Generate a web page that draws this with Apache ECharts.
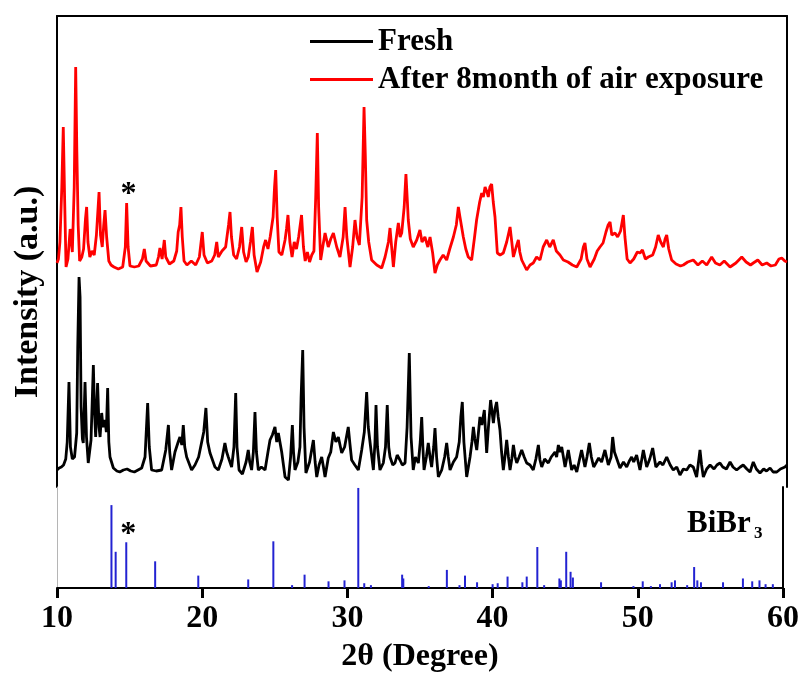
<!DOCTYPE html>
<html><head><meta charset="utf-8">
<script src="https://cdn.jsdelivr.net/npm/echarts@6/dist/echarts.min.js"></script>
<style>html,body{margin:0;padding:0;background:#fff}#c{width:802px;height:674px}</style>
</head><body><div id="c"></div>
<script>
// 2θ (degree), intensity (arbitrary units, offset stacked)
const freshData = [
[10.0,17],[10.15,19],[10.3,20],[10.45,22],[10.6,28],[10.7,45],[10.82,105],[10.92,40],[11.05,28],[11.2,30],[11.35,54],[11.42,140],[11.51,210],[11.58,190],[11.65,80],[11.74,48],[11.8,44],[11.92,105],[12.02,50],[12.14,24],[12.33,47],[12.49,122],[12.57,75],[12.65,50],[12.78,104],[12.88,60],[12.95,50],[13.06,74],[13.15,60],[13.29,67],[13.38,55],[13.47,99],[13.55,45],[13.63,30],[13.86,19],[14.1,16],[14.3,15],[14.55,17],[14.8,18],[15.05,16],[15.3,15],[15.55,17],[15.8,19],[16.03,30],[16.21,84],[16.32,40],[16.48,17],[16.8,16],[17.17,17],[17.45,37],[17.63,62],[17.72,35],[17.85,17],[18.08,35],[18.3,45],[18.42,50],[18.55,42],[18.65,62],[18.75,40],[18.88,30],[19.22,17],[19.45,22],[19.7,30],[19.91,45],[20.05,55],[20.2,79],[20.32,45],[20.48,34],[20.82,20],[21.05,17],[21.3,28],[21.5,44],[21.62,35],[21.73,30],[21.96,20],[22.12,40],[22.24,94],[22.33,40],[22.47,17],[22.7,13],[22.95,25],[23.1,37],[23.2,25],[23.33,17],[23.45,35],[23.56,75],[23.66,35],[23.79,17],[24.0,20],[24.25,17],[24.45,35],[24.59,47],[24.75,52],[24.93,60],[25.05,45],[25.16,54],[25.39,35],[25.62,10],[25.85,7],[26.0,30],[26.12,62],[26.2,35],[26.3,17],[26.5,25],[26.64,40],[26.72,90],[26.83,137],[26.92,60],[27.05,14],[27.3,25],[27.56,47],[27.68,25],[27.79,10],[27.95,22],[28.13,30],[28.25,20],[28.36,10],[28.58,29],[28.75,35],[28.93,55],[29.1,45],[29.27,50],[29.5,34],[29.7,40],[29.95,60],[30.05,45],[30.18,27],[30.4,22],[30.64,17],[30.87,37],[31.05,55],[31.21,95],[31.32,60],[31.48,40],[31.67,17],[31.78,45],[31.85,82],[31.95,40],[32.12,17],[32.35,24],[32.5,40],[32.62,82],[32.72,40],[32.81,30],[33.0,22],[33.15,24],[33.3,32],[33.49,27],[33.65,22],[33.84,24],[33.98,60],[34.13,134],[34.25,50],[34.4,17],[34.55,30],[34.75,24],[34.88,45],[34.98,70],[35.06,40],[35.14,17],[35.3,30],[35.43,44],[35.55,30],[35.66,20],[35.8,40],[35.89,59],[36.0,30],[36.12,10],[36.35,17],[36.55,30],[36.69,44],[36.8,30],[36.92,17],[37.15,25],[37.37,30],[37.55,45],[37.66,70],[37.76,85],[37.87,45],[38.06,10],[38.29,30],[38.42,45],[38.52,60],[38.62,48],[38.75,37],[38.87,55],[38.97,70],[39.1,62],[39.27,77],[39.35,55],[39.43,34],[39.55,60],[39.7,87],[39.8,75],[39.89,64],[40.0,78],[40.11,85],[40.22,70],[40.34,57],[40.45,35],[40.57,17],[40.68,30],[40.8,47],[40.92,30],[41.03,17],[41.15,28],[41.26,42],[41.38,30],[41.49,24],[41.65,30],[41.83,37],[42.0,30],[42.17,24],[42.4,22],[42.62,17],[42.8,28],[42.97,42],[43.08,27],[43.2,20],[43.4,28],[43.65,24],[43.85,30],[44.11,35],[44.22,30],[44.34,42],[44.45,35],[44.57,40],[44.8,20],[45.02,37],[45.25,17],[45.42,22],[45.6,15],[45.75,25],[45.93,37],[46.16,20],[46.3,30],[46.46,44],[46.6,30],[46.76,20],[46.95,25],[47.1,29],[47.3,25],[47.53,37],[47.76,22],[47.95,30],[48.06,50],[48.18,35],[48.3,30],[48.56,19],[48.8,25],[49.02,20],[49.2,26],[49.36,30],[49.5,25],[49.7,32],[49.93,17],[50.16,37],[50.39,20],[50.6,28],[50.8,39],[51.02,20],[51.3,25],[51.5,22],[51.76,30],[52.0,22],[52.21,17],[52.45,20],[52.67,12],[52.9,18],[53.13,17],[53.35,22],[53.58,20],[53.81,10],[54.04,37],[54.15,22],[54.27,10],[54.5,18],[54.73,22],[55.0,18],[55.2,22],[55.41,24],[55.6,20],[55.85,18],[56.1,25],[56.3,20],[56.55,17],[56.8,20],[57.0,22],[57.25,18],[57.47,15],[57.69,25],[57.9,18],[58.15,14],[58.4,18],[58.6,16],[58.84,19],[59.05,15],[59.3,15],[59.55,18],[59.86,20],[60.0,22]
];
const agedData = [
[10.0,224],[10.1,228],[10.2,245],[10.33,300],[10.43,360],[10.52,290],[10.62,220],[10.75,228],[10.9,258],[11.05,235],[11.18,300],[11.28,420],[11.36,335],[11.45,262],[11.55,226],[11.7,230],[11.82,238],[11.95,268],[12.03,280],[12.12,245],[12.25,230],[12.4,236],[12.55,232],[12.7,252],[12.88,295],[12.98,252],[13.1,240],[13.2,262],[13.29,277],[13.4,250],[13.55,226],[13.7,222],[13.9,220],[14.2,218],[14.5,220],[14.68,240],[14.77,284],[14.87,240],[15.0,221],[15.3,220],[15.6,221],[15.85,228],[15.98,238],[16.1,226],[16.4,221],[16.8,222],[16.95,230],[17.05,239],[17.2,228],[17.35,247],[17.45,230],[17.7,223],[18.0,226],[18.2,236],[18.3,255],[18.4,262],[18.49,280],[18.58,250],[18.7,226],[18.9,222],[19.2,226],[19.5,222],[19.75,230],[19.95,255],[20.07,232],[20.3,224],[20.6,226],[20.8,232],[20.94,245],[21.05,230],[21.3,236],[21.55,240],[21.75,262],[21.85,275],[21.95,250],[22.1,232],[22.3,228],[22.5,240],[22.65,260],[22.78,235],[22.95,225],[23.1,230],[23.25,245],[23.38,260],[23.5,232],[23.7,215],[23.95,225],[24.15,240],[24.29,247],[24.45,238],[24.6,250],[24.8,270],[24.9,300],[24.98,317],[25.08,270],[25.2,235],[25.4,232],[25.62,247],[25.72,258],[25.82,272],[25.95,245],[26.1,230],[26.25,245],[26.4,238],[26.55,250],[26.75,272],[26.88,240],[27.0,226],[27.15,235],[27.3,225],[27.45,232],[27.6,236],[27.72,290],[27.83,354],[27.92,280],[28.06,227],[28.2,240],[28.36,254],[28.58,240],[28.75,248],[28.93,254],[29.16,240],[29.38,230],[29.6,250],[29.73,280],[29.85,250],[30.07,220],[30.25,240],[30.41,267],[30.55,250],[30.71,242],[30.9,290],[31.03,380],[31.12,330],[31.21,267],[31.35,245],[31.55,227],[31.9,222],[32.24,219],[32.47,230],[32.7,245],[32.81,259],[32.92,240],[33.04,220],[33.2,245],[33.38,264],[33.5,250],[33.61,254],[33.78,280],[33.9,313],[34.0,285],[34.06,267],[34.2,248],[34.4,240],[34.64,247],[34.86,257],[35.0,245],[35.2,250],[35.4,240],[35.55,250],[35.73,234],[35.89,214],[36.05,222],[36.23,227],[36.45,232],[36.69,227],[36.9,238],[37.15,250],[37.35,262],[37.49,280],[37.6,270],[37.83,250],[38.0,238],[38.17,230],[38.4,227],[38.6,250],[38.74,267],[38.95,285],[39.09,294],[39.2,290],[39.32,300],[39.45,295],[39.54,290],[39.65,300],[39.77,303],[39.88,285],[40.0,270],[40.16,234],[40.35,232],[40.57,234],[40.8,245],[41.03,260],[41.15,245],[41.26,230],[41.45,240],[41.6,247],[41.7,235],[41.83,227],[42.0,222],[42.17,217],[42.4,222],[42.62,224],[42.85,230],[43.08,227],[43.3,240],[43.54,247],[43.75,240],[43.99,247],[44.2,236],[44.45,232],[44.68,227],[45.0,225],[45.3,222],[45.6,220],[45.9,228],[46.05,240],[46.16,244],[46.3,228],[46.51,220],[46.8,228],[47.0,236],[47.19,240],[47.4,244],[47.6,255],[47.75,262],[47.88,265],[48.0,252],[48.22,254],[48.4,250],[48.6,256],[48.79,272],[48.9,250],[49.05,228],[49.25,224],[49.5,228],[49.75,235],[49.93,234],[50.1,237],[50.3,228],[50.5,230],[50.8,232],[51.0,240],[51.18,252],[51.35,245],[51.53,240],[51.65,248],[51.76,252],[51.9,238],[52.1,227],[52.4,223],[52.7,221],[52.9,222],[53.2,225],[53.58,227],[53.9,222],[54.2,226],[54.5,222],[54.84,230],[55.1,224],[55.4,222],[55.7,226],[56.1,220],[56.5,224],[56.9,230],[57.2,225],[57.5,222],[57.69,224],[58.0,227],[58.3,222],[58.61,224],[58.9,221],[59.2,222],[59.45,228],[59.64,229],[59.85,226],[60.0,225]
];
// BiBr3 reference pattern sticks: [2θ, relative intensity]
const bibr3Sticks = [
[13.75,87],[14.04,38],[14.77,48],[16.76,28],[19.73,13],[23.17,9],[24.9,49],[26.19,3],[27.05,14],[28.7,7],[29.8,8],[30.75,105],[31.16,5],[31.62,3],[33.77,14],[33.85,10],[35.6,2],[36.85,19],[37.72,3],[38.1,13],[38.93,6],[40.0,4],[40.35,5],[41.03,12],[42.05,6],[42.35,12],[43.08,43],[43.55,3],[44.6,10],[44.7,8],[45.07,38],[45.37,17],[45.53,11],[47.47,6],[49.7,2],[50.34,7],[50.9,2],[51.53,4],[52.33,6],[52.56,8],[53.4,3],[53.88,22],[54.1,8],[54.35,6],[55.87,6],[57.24,10],[57.88,7],[58.38,8],[58.8,4],[59.3,4]
];
const seriesNames = ['Fresh', 'After 8month of air exposure'];
const xTickMin = 10, xTickMax = 60, xTickStep = 10;
const starMarks = { aged: [14.9, 292], sticks: [14.9, 56] };

const FONT = '"Liberation Serif", "Times New Roman", serif';
const chart = echarts.init(document.getElementById('c'), null, { renderer: 'canvas' });
const hiddenAxis = (color, width) => ({
  axisLine: { show: true, onZero: false, lineStyle: { color: color, width: width } },
  axisTick: { show: false }, axisLabel: { show: false }, splitLine: { show: false }
});
const starLabel = { show: true, formatter: '*', fontFamily: FONT, fontWeight: 'bold', fontSize: 32, color: '#000' };

chart.setOption({
  animation: false,
  backgroundColor: '#fff',
  grid: [
    { left: 57, right: 15, top: 16, height: 471 },
    { left: 57, right: 15, top: 487, height: 106 }
  ],
  xAxis: [
    Object.assign({ gridIndex: 0, type: 'value', min: xTickMin, max: xTickMax, position: 'top' }, hiddenAxis('#000', 2)),
    {
      gridIndex: 1, type: 'value', min: xTickMin, max: xTickMax, interval: xTickStep, position: 'bottom',
      axisLine: { show: true, onZero: false, lineStyle: { color: '#000', width: 2 } },
      axisTick: { show: true, inside: false, length: 10, lineStyle: { color: '#000', width: 3 } },
      axisLabel: { fontFamily: FONT, fontWeight: 'bold', fontSize: 32, color: '#000', margin: 15 },
      splitLine: { show: false },
      name: '2θ (Degree)', nameLocation: 'middle', nameGap: 53,
      nameTextStyle: { fontFamily: FONT, fontWeight: 'bold', fontSize: 32, color: '#000' }
    }
  ],
  yAxis: [
    Object.assign({ gridIndex: 0, type: 'value', min: 0, max: 471, position: 'left' }, hiddenAxis('#000', 2)),
    Object.assign({ gridIndex: 0, type: 'value', min: 0, max: 471, position: 'right' }, hiddenAxis('#000', 2)),
    Object.assign({ gridIndex: 1, type: 'value', min: 0, max: 106, position: 'left' }, hiddenAxis('#b5b5b5', 1)),
    Object.assign({ gridIndex: 1, type: 'value', min: 0, max: 106, position: 'right' }, hiddenAxis('#000', 2))
  ],
  legend: {
    data: seriesNames, orient: 'vertical', left: 305, top: 21,
    icon: 'rect', itemWidth: 63, itemHeight: 3, itemGap: 7,
    textStyle: { fontFamily: FONT, fontWeight: 'bold', fontSize: 31, lineHeight: 31, color: '#000' }
  },
  graphic: [
    { type: 'text', x: 28, y: 292, rotation: Math.PI / 2,
      style: { text: 'Intensity (a.u.)', font: 'bold 34px ' + FONT, fill: '#000', align: 'center', verticalAlign: 'middle' } },
    { type: 'text', x: 687, y: 524,
      style: { text: 'BiBr', font: 'bold 31px ' + FONT, fill: '#000', align: 'left', verticalAlign: 'middle' } },
    { type: 'text', x: 754, y: 534,
      style: { text: '3', font: 'bold 17px ' + FONT, fill: '#000', align: 'left', verticalAlign: 'middle' } }
  ],
  series: [
    { name: seriesNames[0], type: 'line', xAxisIndex: 0, yAxisIndex: 0, data: freshData, symbol: 'none',
      lineStyle: { color: '#000', width: 2.8 }, itemStyle: { color: '#000' } },
    { name: seriesNames[1], type: 'line', xAxisIndex: 0, yAxisIndex: 0, data: agedData, symbol: 'none',
      lineStyle: { color: '#ff0000', width: 2.8 }, itemStyle: { color: '#ff0000' },
      markPoint: { symbol: 'circle', symbolSize: 1, itemStyle: { color: 'rgba(0,0,0,0)' },
        label: starLabel, data: [{ coord: starMarks.aged }] } },
    { name: 'BiBr3', type: 'bar', xAxisIndex: 1, yAxisIndex: 2, data: bibr3Sticks, barWidth: 2,
      itemStyle: { color: '#2323d2' },
      markPoint: { symbol: 'circle', symbolSize: 1, itemStyle: { color: 'rgba(0,0,0,0)' },
        label: starLabel, data: [{ coord: starMarks.sticks }] } }
  ]
});
</script></body></html>
